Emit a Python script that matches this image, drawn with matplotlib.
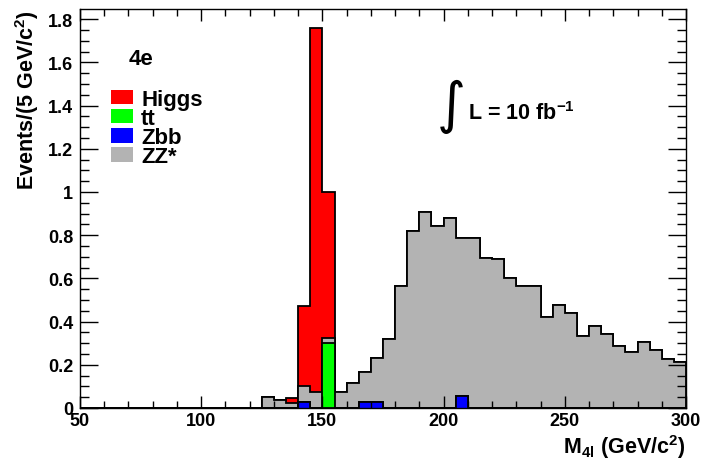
import numpy as np
import matplotlib
matplotlib.use("Agg")
import matplotlib.pyplot as plt
from matplotlib.patches import Patch
from matplotlib.ticker import MultipleLocator

plt.rcParams['font.family'] = ['Liberation Sans', 'DejaVu Sans']
plt.rcParams['font.weight'] = 'bold'
plt.rcParams['axes.labelweight'] = 'bold'
plt.rcParams['mathtext.fontset'] = 'custom'
plt.rcParams['mathtext.rm'] = 'Liberation Sans:bold'
plt.rcParams['mathtext.bf'] = 'Liberation Sans:bold'
plt.rcParams['mathtext.it'] = 'Liberation Sans:bold'
plt.rcParams['mathtext.default'] = 'bf'

# 5 GeV bins from 50 to 300 (lower edges listed)
bin_low = [50, 55, 60, 65, 70, 75, 80, 85, 90, 95,
           100, 105, 110, 115, 120, 125, 130, 135, 140, 145,
           150, 155, 160, 165, 170, 175, 180, 185, 190, 195,
           200, 205, 210, 215, 220, 225, 230, 235, 240, 245,
           250, 255, 260, 265, 270, 275, 280, 285, 290, 295]

zbb = [0, 0, 0, 0, 0, 0, 0, 0, 0, 0,
       0, 0, 0, 0, 0, 0, 0, 0, 0.026, 0,
       0, 0, 0, 0.026, 0.026, 0, 0, 0, 0, 0,
       0, 0.057, 0, 0, 0, 0, 0, 0, 0, 0,
       0, 0, 0, 0, 0, 0, 0, 0, 0, 0]

tt = [0, 0, 0, 0, 0, 0, 0, 0, 0, 0,
      0, 0, 0, 0, 0, 0, 0, 0, 0, 0,
      0.30, 0, 0, 0, 0, 0, 0, 0, 0, 0,
      0, 0, 0, 0, 0, 0, 0, 0, 0, 0,
      0, 0, 0, 0, 0, 0, 0, 0, 0, 0]

zz = [0, 0, 0, 0, 0, 0, 0, 0, 0, 0,
      0, 0, 0, 0, 0, 0.050, 0.038, 0.023, 0.074, 0.073,
      0.024, 0.073, 0.116, 0.142, 0.205, 0.320, 0.566, 0.821, 0.909, 0.844,
      0.878, 0.729, 0.786, 0.696, 0.690, 0.603, 0.566, 0.566, 0.421, 0.478,
      0.438, 0.335, 0.381, 0.344, 0.286, 0.261, 0.304, 0.268, 0.227, 0.214]

higgs = [0, 0, 0, 0, 0, 0, 0, 0, 0, 0,
         0, 0, 0, 0, 0, 0, 0, 0.022, 0.374, 1.687,
         0.676, 0, 0, 0, 0, 0, 0, 0, 0, 0,
         0, 0, 0, 0, 0, 0, 0, 0, 0, 0,
         0, 0, 0, 0, 0, 0, 0, 0, 0, 0]

# stack order bottom -> top, legend order as in the original
stack = [("Zbb", zbb, "#0000ff"), ("tt", tt, "#00ff00"),
         ("ZZ*", zz, "#b3b3b3"), ("Higgs", higgs, "#ff0000")]
legend_order = ["Higgs", "tt", "Zbb", "ZZ*"]

edges = np.append(bin_low, bin_low[-1] + 5)

fig = plt.figure(figsize=(7.04, 4.6), dpi=100)
ax = fig.add_axes([80 / 704, 51 / 460, 606 / 704, 399 / 460])

# draw like THStack: cumulative sums, biggest first
cums = np.cumsum([np.array(s[1], dtype=float) for s in stack], axis=0)
for i in range(len(stack) - 1, -1, -1):
    ax.stairs(cums[i], edges, fill=True, facecolor=stack[i][2],
              edgecolor='black', linewidth=1.3, baseline=0)

ax.set_xlim(50, 300)
ax.set_ylim(0, 1.847)

ax.xaxis.set_major_locator(MultipleLocator(50))
ax.xaxis.set_minor_locator(MultipleLocator(10))
ax.yaxis.set_major_locator(MultipleLocator(0.2))
ax.yaxis.set_minor_locator(MultipleLocator(0.05))
ax.yaxis.set_major_formatter(plt.FuncFormatter(lambda v, p: f"{v:g}"))

ax.tick_params(which='both', direction='in', top=True, right=True,
               labelsize=13, width=1)
ax.tick_params(axis='x', which='major', length=8.5, pad=3)
ax.tick_params(axis='x', which='minor', length=5)
ax.tick_params(axis='y', which='major', length=13, pad=5)
ax.tick_params(axis='y', which='minor', length=6.5)
for sp in ax.spines.values():
    sp.set_linewidth(1)

ax.set_xlabel(r"M$_{4l}$ (GeV/c$^{2}$)", fontsize=15.5, loc='right', labelpad=2)
ax.set_ylabel(r"Events/(5 GeV/c$^{2}$)", fontsize=15.5, loc='top', labelpad=5)

ax.text(0.081, 0.862, "4e", transform=ax.transAxes, fontsize=16, va='baseline')

colors = {s[0]: s[2] for s in stack}
handles = [Patch(facecolor=colors[n], edgecolor='none', label=n) for n in legend_order]
ax.legend(handles=handles, loc='upper left', bbox_to_anchor=(0.0512, 0.8005),
          frameon=False, fontsize=16, borderpad=0, borderaxespad=0,
          handlelength=1.0, handleheight=0.63, handletextpad=0.36,
          labelspacing=-0.08)

ax.text(0.612, 0.757, "\u222b", transform=ax.transAxes, fontsize=40,
        family='DejaVu Sans', ha='center', va='center', fontweight='normal')
ax.text(0.64, 0.724, r"L = 10 fb$^{-1}$", transform=ax.transAxes,
        fontsize=15.5, va='baseline')

fig.savefig("out.png", dpi=100)
